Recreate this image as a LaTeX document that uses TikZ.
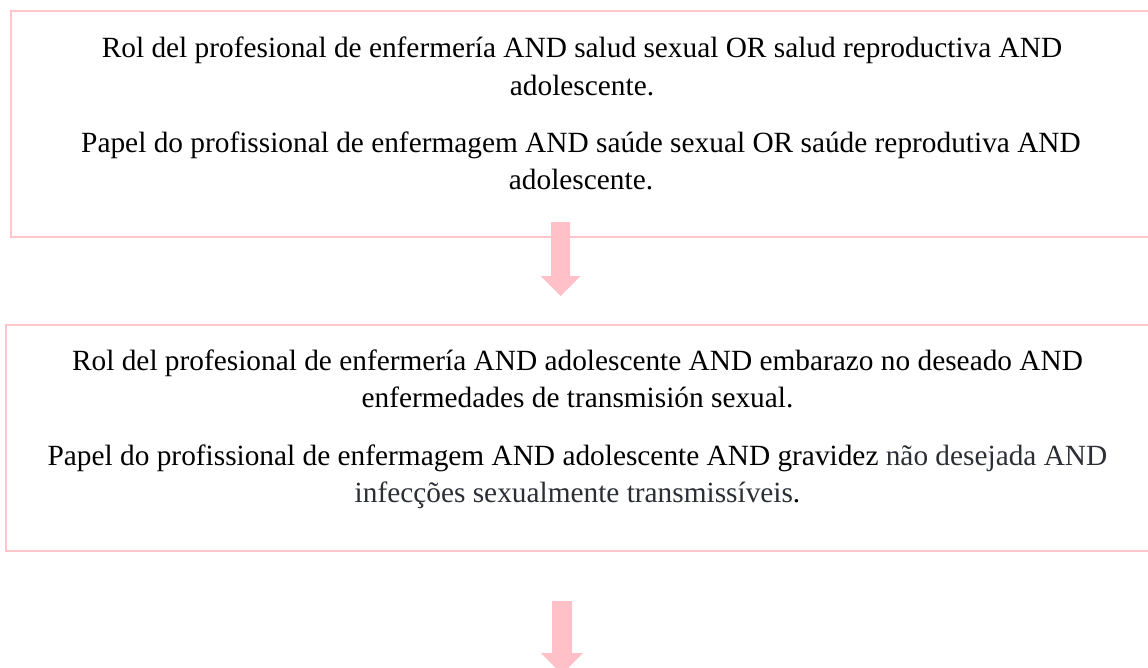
\documentclass[tikz,border=0pt]{standalone}
\usepackage{fontspec}
\setmainfont{Liberation Serif}
\definecolor{pinkline}{RGB}{255,196,204}
\definecolor{pinkfill}{RGB}{255,192,200}
\definecolor{graytext}{RGB}{44,46,54}
\begin{document}
\begin{tikzpicture}[x=0.75pt,y=-0.75pt,
  boxstyle/.style={draw=pinkline,line width=1.6pt},
  linestyle/.style={anchor=base,inner sep=0pt,font=\fontsize{22}{27.75}\selectfont},
  arrowstyle/.style={fill=pinkfill,draw=none}]
\useasboundingbox (0,0) rectangle (1148,667);
\clip (0,0) rectangle (1148,667);
% boxes
\draw[boxstyle] (11,11) rectangle (1160,237);
\coordinate (box1) at (581,124);
\draw[boxstyle] (6,325) rectangle (1160,551);
\coordinate (box2) at (577,438);
% box 1 text
\node[linestyle] (a1) at (582,58) {Rol del profesional de enfermería AND salud sexual OR salud reproductiva AND};
\node[linestyle] (a2) at (582,95) {adolescente.};
\node[linestyle] (a3) at (581,152) {Papel do profissional de enfermagem AND saúde sexual OR saúde reprodutiva AND};
\node[linestyle] (a4) at (581,189) {adolescente.};
% box 2 text
\node[linestyle] (b1) at (577.5,370) {Rol del profesional de enfermería AND adolescente AND embarazo no deseado AND};
\node[linestyle] (b2) at (577.5,407) {enfermedades de transmisión sexual.};
\node[linestyle] (b3) at (577.5,465) {Papel do profissional de enfermagem AND adolescente AND gravidez \textcolor{graytext}{não desejada AND}};
\node[linestyle] (b4) at (577.5,502) {\textcolor{graytext}{infecções sexualmente transmissíveis}.};
% arrows
\fill[arrowstyle] (551,222) -- (570,222) -- (570,276) -- (580.5,276) -- (560.5,296) -- (540.5,276) -- (551,276) -- cycle;
\fill[arrowstyle] (552,601) -- (572,601) -- (572,653) -- (583,653) -- (562,674) -- (541,653) -- (552,653) -- cycle;
\end{tikzpicture}
\end{document}
